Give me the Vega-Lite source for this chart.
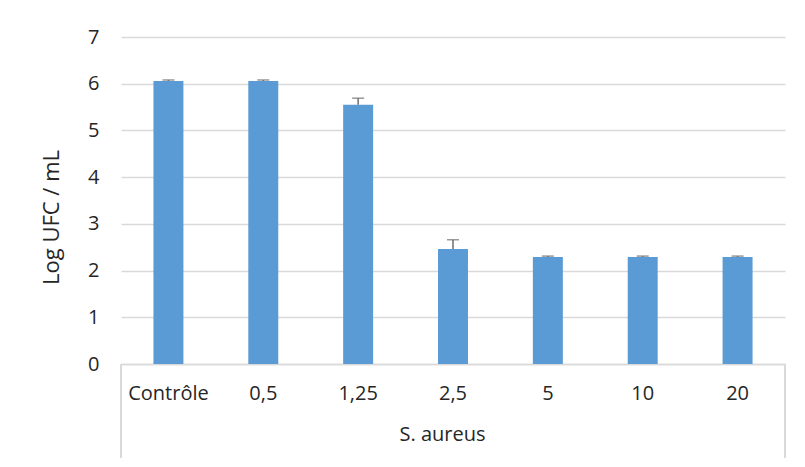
{
  "$schema": "https://vega.github.io/schema/vega-lite/v6.json",
  "autosize": "none",
  "width": 664,
  "height": 327,
  "padding": {"left": 121, "top": 37, "right": 20, "bottom": 103},
  "background": "white",
  "config": {
    "view": {"stroke": null},
    "font": "Open Sans",
    "axis": {"labelFont": "Open Sans", "titleFont": "Open Sans", "labelColor": "#262626", "titleColor": "#262626"}
  },
  "data": {
    "values": [
      {"c": "Contrôle", "v": 6.06, "e": 0.02},
      {"c": "0,5", "v": 6.06, "e": 0.02},
      {"c": "1,25", "v": 5.55, "e": 0.14},
      {"c": "2,5", "v": 2.46, "e": 0.2},
      {"c": "5", "v": 2.29, "e": 0.02},
      {"c": "10", "v": 2.29, "e": 0.02},
      {"c": "20", "v": 2.29, "e": 0.02}
    ]
  },
  "transform": [{"calculate": "datum.v + datum.e", "as": "top"}],
  "encoding": {
    "x": {
      "field": "c", "type": "nominal", "sort": null,
      "scale": {"paddingInner": 0, "paddingOuter": 0},
      "axis": {
        "title": "S. aureus", "labelAngle": 0, "labelFontSize": 20, "titleFontSize": 20,
        "titleFontWeight": "normal", "ticks": false, "tickSize": 0, "labelPadding": 19,
        "titlePadding": 21, "domainColor": "#d9d9d9", "domainWidth": 1.3, "titleX": 321
      }
    }
  },
  "layer": [
    {
      "mark": {"type": "bar", "color": "#5B9BD5", "width": {"band": 0.316}},
      "encoding": {
        "y": {
          "field": "v", "type": "quantitative",
          "scale": {"domain": [0, 7], "nice": false},
          "axis": {
            "title": "Log UFC / mL", "values": [0, 1, 2, 3, 4, 5, 6, 7], "domain": false, "ticks": false,
            "gridColor": "#d9d9d9", "gridWidth": 1.3, "labelFontSize": 20, "labelPadding": 22,
            "titleFontSize": 22, "titleFontWeight": "normal", "titlePadding": 24, "titleY": 180
          }
        }
      }
    },
    {
      "mark": {"type": "rule", "color": "#6d6d6d", "strokeWidth": 1.5},
      "encoding": {"y": {"field": "v", "type": "quantitative"}, "y2": {"field": "top"}}
    },
    {
      "mark": {"type": "tick", "color": "#6d6d6d", "orient": "horizontal", "size": 12, "thickness": 1.5},
      "encoding": {"y": {"field": "top", "type": "quantitative"}}
    },
    {
      "mark": {"type": "rule", "color": "#d9d9d9", "strokeWidth": 1.3},
      "encoding": {
        "x": {"datum": "Contrôle", "type": "nominal", "bandPosition": 0},
        "y": {"datum": 0, "type": "quantitative"},
        "y2": {"datum": -2}
      }
    },
    {
      "mark": {"type": "rule", "color": "#d9d9d9", "strokeWidth": 1.3},
      "encoding": {
        "x": {"datum": "20", "type": "nominal", "bandPosition": 1},
        "y": {"datum": 0, "type": "quantitative"},
        "y2": {"datum": -2}
      }
    }
  ]
}
